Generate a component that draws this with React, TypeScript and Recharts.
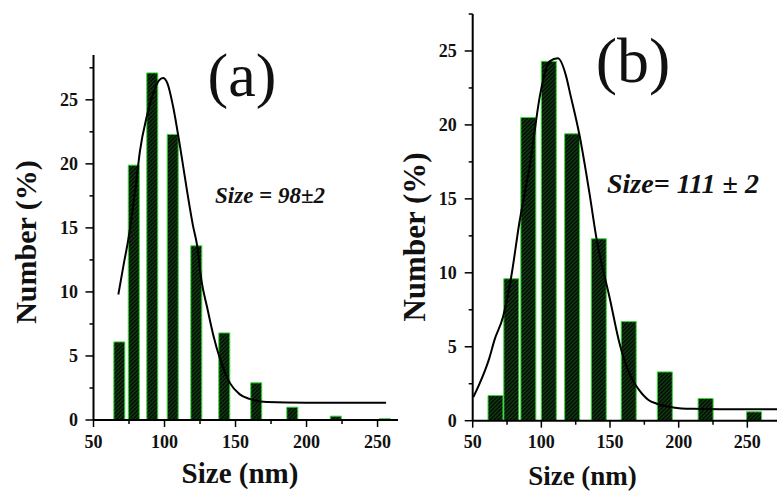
import React from 'react';
import { ComposedChart, LineChart, Bar, Line, XAxis, YAxis } from 'recharts';

// panel (a) histogram
const binsA = [68, 78.2, 91.2, 105.6, 122.2, 141.9, 164.4, 189.8, 220.4, 255];
const countsA = [6.1, 19.9, 27.1, 22.3, 13.6, 6.8, 2.9, 1.0, 0.3, 0.1];
// panel (a) fit curve
const fitXA = [67.5, 71, 74.5, 80, 82.7, 87.5, 92, 96, 99, 102, 106, 111, 116, 120, 123, 126, 130, 134.4, 139, 146, 153, 160, 172, 200, 256];
const fitYA = [9.8, 12.0, 14.1, 18.5, 21, 23.7, 25.5, 26.5, 26.7, 26.3, 24.5, 21.3, 17.8, 15.2, 13.6, 10.9, 8.8, 6.6, 4.8, 2.9, 2.0, 1.65, 1.4, 1.35, 1.35];

// panel (b) histogram
const binsB = [66.9, 78.4, 90.8, 105.7, 122.7, 142.1, 163.9, 190.2, 219.9, 255.2];
const countsB = [1.7, 9.6, 20.5, 24.3, 19.4, 12.3, 6.7, 3.3, 1.5, 0.6];
const fitXB = [50.5, 55, 62, 66, 72, 78, 84, 92, 99, 106, 112, 118, 121, 128, 135, 140, 150, 157, 165, 171, 178, 184, 196, 210, 230, 272];
const fitYB = [1.6, 2.5, 4.2, 5.5, 7.0, 9.7, 13.4, 17.5, 22.0, 24.3, 24.5, 23.3, 22.1, 19.2, 15.4, 12.4, 8.2, 5.2, 3.0, 2.1, 1.4, 1.15, 0.9, 0.8, 0.77, 0.77];

const xTicks = [50, 75, 100, 125, 150, 175, 200, 225, 250];
const yTicks = [0, 2.5, 5, 7.5, 10, 12.5, 15, 17.5, 20, 22.5, 25, 27.5];

const FONT = 'Liberation Serif, DejaVu Serif, serif';

const barsA = binsA.map((x, i) => ({ x, n: countsA[i] }));
const curveA = fitXA.map((x, i) => ({ x, fit: fitYA[i] }));
const barsB = binsB.map((x, i) => ({ x, n: countsB[i] }));
const curveB = fitXB.map((x, i) => ({ x, fit: fitYB[i] }));

const XTick = ({ x, y, payload, labelDy }: any) => {
  const major = payload.value % 50 === 0;
  return (
    <g>
      <line x1={x} x2={x} y1={y} y2={y + (major ? 7 : 4)} stroke="#000" strokeWidth={1.5} />
      {major && (
        <text x={x} y={y + labelDy} textAnchor="middle" style={{ fontFamily: FONT, fontWeight: 'bold', fontSize: 18 }} fill="#111">
          {payload.value}
        </text>
      )}
    </g>
  );
};

const YTick = ({ x, y, payload, labelDx }: any) => {
  const major = payload.value % 5 === 0;
  return (
    <g>
      <line x1={x} x2={x - (major ? 8 : 4)} y1={y} y2={y} stroke="#000" strokeWidth={1.5} />
      {major && (
        <text x={x - labelDx} y={y + 6} textAnchor="end" style={{ fontFamily: FONT, fontWeight: 'bold', fontSize: 18 }} fill="#111">
          {payload.value}
        </text>
      )}
    </g>
  );
};

const Hatch = ({ id }: { id: string }) => (
  <defs>
    <pattern id={id} width={4} height={4} patternUnits="userSpaceOnUse">
      <rect width={4} height={4} fill="#0f3a12" />
      <path d="M-1,1 l2,-2 M0,4 l4,-4 M3,5 l2,-2" stroke="#020a02" strokeWidth={1.3} />
    </pattern>
  </defs>
);

const txt = (size: number, bold = true, italic = false) => ({
  fontFamily: FONT,
  fontSize: size,
  fontWeight: bold ? 'bold' : 'normal',
  fontStyle: italic ? 'italic' : 'normal',
});

export default function App() {
  return (
    <div style={{ position: 'absolute', left: 0, top: 0, width: 777, height: 491, background: '#fff', overflow: 'hidden' }}>
      {/* panel (a) */}
      <div style={{ position: 'absolute', left: 0, top: 0 }}>
        <ComposedChart width={400} height={491} data={barsA} margin={{ top: 55, right: 2, bottom: 41, left: 33.5 }}>
          <Hatch id="hatchA" />
          <XAxis
            dataKey="x"
            type="number"
            domain={[50, 264.4]}
            allowDataOverflow
            ticks={xTicks}
            interval={0}
            height={30}
            tickSize={0}
            tickMargin={0}
            tick={<XTick labelDy={28} />}
            axisLine={{ stroke: '#000', strokeWidth: 2 }}
          />
          <YAxis
            type="number"
            domain={[0, 28.5]}
            allowDataOverflow
            ticks={yTicks}
            interval={0}
            width={60}
            tickSize={0}
            tickMargin={0}
            tick={<YTick labelDx={15.5} />}
            axisLine={{ stroke: '#000', strokeWidth: 2 }}
          />
          <Bar dataKey="n" barSize={11} fill="url(#hatchA)" stroke="#35d835" strokeWidth={1} isAnimationActive={false} />
          <text x={242} y={96} textAnchor="middle" style={txt(62, false)} fill="#111">(a)</text>
          <text x={215} y={203} style={txt(23, true, true)} fill="#111">Size = 98±2</text>
          <text x={240} y={483} textAnchor="middle" style={txt(29)} fill="#111">Size (nm)</text>
          <text transform="translate(36,242) rotate(-90)" textAnchor="middle" style={txt(30)} fill="#111">Number (%)</text>
        </ComposedChart>
      </div>
      {/* fit curve (a), overlaid with the same plot box */}
      <div style={{ position: 'absolute', left: 0, top: 0 }}>
        <LineChart width={400} height={491} data={curveA} margin={{ top: 55, right: 2, bottom: 71, left: 93.5 }}>
          <XAxis dataKey="x" type="number" domain={[50, 264.4]} allowDataOverflow hide />
          <YAxis type="number" domain={[0, 28.5]} allowDataOverflow hide />
          <Line dataKey="fit" type="monotone" stroke="#000" strokeWidth={2} dot={false} isAnimationActive={false} />
        </LineChart>
      </div>

      {/* panel (b) */}
      <div style={{ position: 'absolute', left: 390, top: 0 }}>
        <ComposedChart width={387} height={491} data={barsB} margin={{ top: 14, right: 0, bottom: 40.3, left: 22.7 }}>
          <Hatch id="hatchB" />
          <XAxis
            dataKey="x"
            type="number"
            domain={[50, 271.6]}
            allowDataOverflow
            ticks={xTicks}
            interval={0}
            height={30}
            tickSize={0}
            tickMargin={0}
            tick={<XTick labelDy={27} />}
            axisLine={{ stroke: '#000', strokeWidth: 2 }}
          />
          <YAxis
            type="number"
            domain={[0, 27.5]}
            allowDataOverflow
            ticks={yTicks}
            interval={0}
            width={60}
            tickSize={0}
            tickMargin={0}
            tick={<YTick labelDx={16} />}
            axisLine={{ stroke: '#000', strokeWidth: 2 }}
          />
          <Bar dataKey="n" barSize={15} fill="url(#hatchB)" stroke="#35d835" strokeWidth={1} isAnimationActive={false} />
          <text x={243} y={82} textAnchor="middle" style={txt(64, false)} fill="#111">(b)</text>
          <text x={217} y={193} style={txt(28, true, true)} fill="#111">Size= 111 ± 2</text>
          <text x={192.5} y={485} textAnchor="middle" style={txt(27)} fill="#111">Size (nm)</text>
          <text transform="translate(35,237) rotate(-90)" textAnchor="middle" style={txt(31)} fill="#111">Number (%)</text>
        </ComposedChart>
      </div>
      {/* fit curve (b) */}
      <div style={{ position: 'absolute', left: 390, top: 0 }}>
        <LineChart width={387} height={491} data={curveB} margin={{ top: 14, right: 0, bottom: 70.3, left: 82.7 }}>
          <XAxis dataKey="x" type="number" domain={[50, 271.6]} allowDataOverflow hide />
          <YAxis type="number" domain={[0, 27.5]} allowDataOverflow hide />
          <Line dataKey="fit" type="monotone" stroke="#000" strokeWidth={2} dot={false} isAnimationActive={false} />
        </LineChart>
      </div>
    </div>
  );
}
